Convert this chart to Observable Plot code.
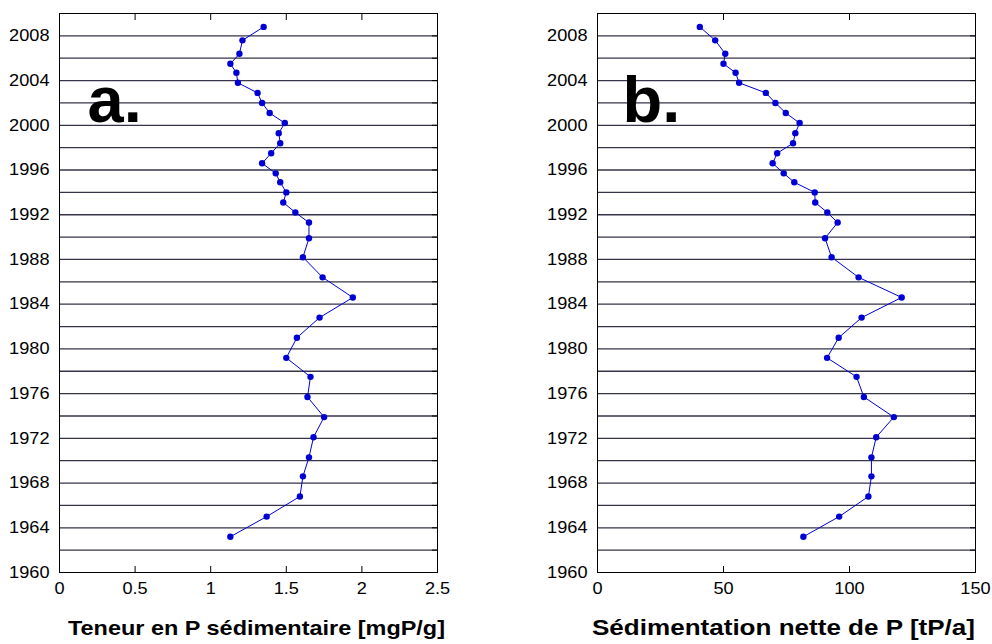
<!DOCTYPE html>
<html>
<head>
<meta charset="utf-8">
<script src="https://cdn.jsdelivr.net/npm/d3@7"></script>
<script src="https://cdn.jsdelivr.net/npm/@observablehq/plot@0.6"></script>
<style>
  body { margin: 0; background: white; }
  #wrap { position: relative; width: 992px; height: 644px; background: white; }
  #wrap svg { position: absolute; top: 0; }
</style>
</head>
<body>
<div id="wrap"></div>
<script>
// Years of each sediment slice (top to bottom)
const years = [2008.8, 2007.6, 2006.4, 2005.5, 2004.7, 2003.8, 2002.9, 2002.0, 2001.1, 2000.2,
  1999.3, 1998.4, 1997.5, 1996.6, 1995.7, 1994.9, 1994.0, 1993.1, 1992.2, 1991.3,
  1989.9, 1988.2, 1986.4, 1984.6, 1982.8, 1981.0, 1979.2, 1977.5, 1975.7, 1973.9,
  1972.1, 1970.3, 1968.6, 1966.8, 1965.0, 1963.2];
// a. Teneur en P sédimentaire [mgP/g]
const teneur = [1.35, 1.21, 1.19, 1.13, 1.17, 1.18, 1.31, 1.34, 1.39, 1.49,
  1.45, 1.46, 1.40, 1.34, 1.43, 1.46, 1.50, 1.48, 1.56, 1.65,
  1.65, 1.61, 1.74, 1.94, 1.72, 1.57, 1.50, 1.66, 1.64, 1.75,
  1.68, 1.65, 1.61, 1.59, 1.37, 1.13];
// b. Sédimentation nette de P [tP/a]
const sedim = [40.6, 46.7, 50.7, 50.0, 54.8, 56.2, 66.8, 70.6, 74.7, 80.2,
  78.5, 77.6, 71.3, 69.5, 73.9, 78.1, 86.2, 86.4, 91.2, 95.3,
  90.3, 92.9, 103.6, 120.7, 104.8, 95.7, 91.1, 102.8, 105.7, 117.6,
  110.6, 108.7, 108.7, 107.5, 95.9, 81.7];

const yLabels = [1960, 1964, 1968, 1972, 1976, 1980, 1984, 1988, 1992, 1996, 2000, 2004, 2008];
const gridYears = [1962, 1964, 1966, 1968, 1970, 1972, 1974, 1976, 1978, 1980, 1982, 1984,
  1986, 1988, 1990, 1992, 1994, 1996, 1998, 2000, 2002, 2004, 2006, 2008];
const xTicksA = [0, 0.5, 1, 1.5, 2, 2.5];
const xInnerA = [0.5, 1, 1.5, 2];
const xTicksB = [0, 50, 100, 150];
const xInnerB = [50, 100];
const labelA = "Teneur en P sédimentaire [mgP/g]";
const labelB = "Sédimentation nette de P [tP/a]";

const blue = "#0000d4";

function panel(values, cfg) {
  const data = years.map((y, i) => ({year: y, v: values[i]}));
  return Plot.plot({
    width: 496, height: 644,
    marginLeft: cfg.ml, marginRight: cfg.mr, marginTop: 13, marginBottom: 72,
    style: {fontFamily: "'Liberation Sans', Arial, sans-serif", fontSize: "16px", color: "black", background: "white", overflow: "visible"},
    x: {domain: cfg.domain},
    y: {domain: [1960, 2010]},
    marks: [
      Plot.ruleY(gridYears, {stroke: "#35354a", strokeWidth: 1.3}),
      Plot.frame({stroke: "black", strokeWidth: 1}),
      Plot.axisX({anchor: "bottom", ticks: cfg.ticks, tickSize: 0, tickPadding: 10, tickFormat: d => String(d), label: null, fontSize: 16.5}),
      Plot.axisX({anchor: "bottom", ticks: cfg.inner, tickSize: 6, dy: -6, fill: "none", label: null}),
      Plot.axisX({anchor: "top", ticks: cfg.inner, tickSize: 6, dy: 6, fill: "none", label: null}),
      Plot.axisY({anchor: "left", ticks: yLabels, tickSize: 0, tickPadding: 10, tickFormat: d => String(d), label: null, fontSize: 16.5}),
      Plot.axisY({anchor: "right", ticks: gridYears, tickSize: 6, dx: -6, fill: "none", label: null}),
      Plot.line(data, {x: "v", y: "year", stroke: blue, strokeWidth: 1}),
      Plot.dot(data, {x: "v", y: "year", r: 3.2, fill: blue, stroke: "none"}),
      Plot.text([cfg.letter], {frameAnchor: "top-left", lineAnchor: "middle", dx: cfg.letterDx, dy: 87.7, fontSize: 65, fontWeight: "bold", textAnchor: "start", fill: "black"}),
      Plot.text([cfg.label], {frameAnchor: "bottom", lineAnchor: "middle", dx: cfg.labelDx, dy: 56, fontSize: cfg.labelSize, fontWeight: "bold", fill: "black"})
    ]
  });
}

const wrap = document.getElementById("wrap");
const svgA = panel(teneur, {ml: 59, mr: 59, domain: [0, 2.5], ticks: xTicksA, inner: xInnerA, letter: "a.", letterDx: 28, label: labelA, labelDx: 8, labelSize: 21});
const svgB = panel(sedim, {ml: 101, mr: 17, domain: [0, 150], ticks: xTicksB, inner: xInnerB, letter: "b.", letterDx: 25, label: labelB, labelDx: -3, labelSize: 21.5});
svgA.style.left = "0px";
svgB.style.left = "496px";
wrap.appendChild(svgA);
wrap.appendChild(svgB);

// horizontal stretch of the texts, as in the reference picture
function stretch(svg, labelText, labelWidth) {
  svg.querySelectorAll('g[aria-label="x-axis tick label"] text, g[aria-label="y-axis tick label"] text').forEach(t => {
    const w = t.getComputedTextLength();
    t.setAttribute("textLength", (w * 1.1).toFixed(1));
    t.setAttribute("lengthAdjust", "spacingAndGlyphs");
  });
  svg.querySelectorAll("text").forEach(t => {
    if (t.textContent === labelText) {
      t.setAttribute("textLength", labelWidth);
      t.setAttribute("lengthAdjust", "spacingAndGlyphs");
    }
  });
}
stretch(svgA, labelA, 377);
stretch(svgB, labelB, 383);
</script>
</body>
</html>
